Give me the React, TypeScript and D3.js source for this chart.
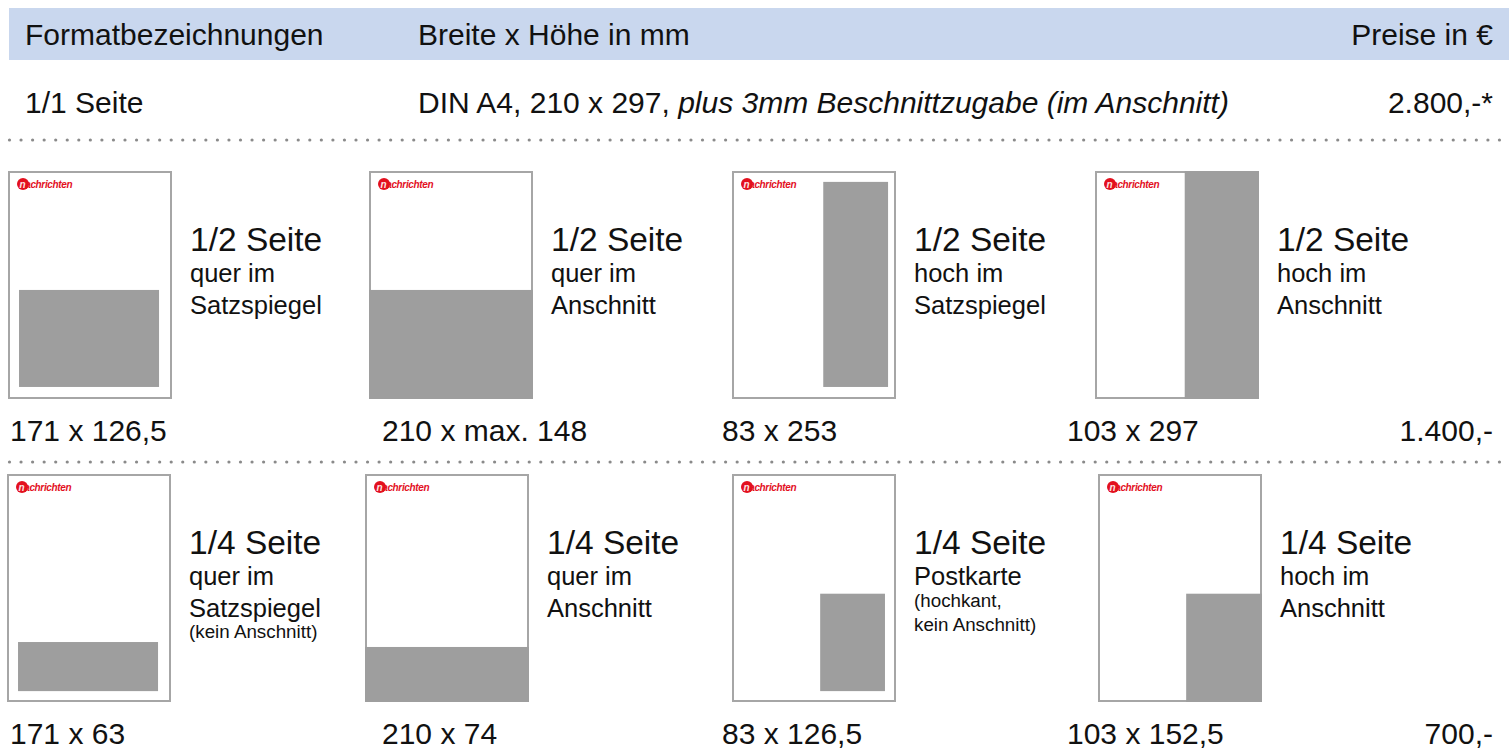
import * as d3 from "d3";

// header + full page row
const headers = ["Formatbezeichnungen", "Breite x Höhe in mm", "Preise in €"];
const fullName = "1/1 Seite";
const fullSize = "DIN A4, 210 x 297, ";
const fullNote = "plus 3mm Beschnittzugabe (im Anschnitt)";
const prices = ["2.800,-*", "1.400,-", "700,-"];

// page size in mm (DIN A4)
const pageMm = [210, 297];

// half page formats
const halfTitles = ["1/2 Seite", "1/2 Seite", "1/2 Seite", "1/2 Seite"];
const halfSubs = [["quer im", "Satzspiegel"], ["quer im", "Anschnitt"], ["hoch im", "Satzspiegel"], ["hoch im", "Anschnitt"]];
const halfNotes: string[][] = [[], [], [], []];
const halfSizes = ["171 x 126,5", "210 x max. 148", "83 x 253", "103 x 297"];
// ad box on the thumbnail, mm: [x0, y0, x1, y1]
const halfBoxes = [[13, 155, 194.5, 282.5], [0, 155, 210, 297], [117, 13, 201, 282.5], [115, 0, 210, 297]];

// quarter page formats
const quarterTitles = ["1/4 Seite", "1/4 Seite", "1/4 Seite", "1/4 Seite"];
const quarterSubs = [["quer im", "Satzspiegel"], ["quer im", "Anschnitt"], ["Postkarte"], ["hoch im", "Anschnitt"]];
const quarterNotes = [["(kein Anschnitt)"], [], ["(hochkant,", "kein Anschnitt)"], []];
const quarterSizes = ["171 x 63", "210 x 74", "83 x 126,5", "103 x 152,5"];
const quarterBoxes = [[13, 219.5, 194.5, 284], [0, 226, 210, 297], [113, 156, 197, 284], [113, 156, 210, 297]];

const W = 1509;
const H = 751;
const FONT = "'Liberation Sans', Arial, sans-serif";
const PAGE_W = 162;
const PAGE_H = 226;

const xMm = d3.scaleLinear().domain([0, pageMm[0]]).range([0, PAGE_W]);
const yMm = d3.scaleLinear().domain([0, pageMm[1]]).range([0, PAGE_H]);

// extend bleed boxes over the frame stroke
const bx = (v: number) => (v <= 0 ? xMm(v) - 1 : v >= pageMm[0] ? xMm(v) + 1 : xMm(v));
const by = (v: number) => (v <= 0 ? yMm(v) - 1 : v >= pageMm[1] ? yMm(v) + 1 : yMm(v));

const Thumb = ({ x, y, box }: { x: number; y: number; box: number[] }) => (
  <g transform={`translate(${x},${y})`}>
    <rect x={0} y={0} width={PAGE_W} height={PAGE_H} fill="#fff" stroke="#a6a6a6" strokeWidth={2} />
    <circle cx={14} cy={12} r={6} fill="#e3101e" />
    <text x={10.5} y={15.8} fontFamily={FONT} fontSize={10} fontWeight="bold" fontStyle="italic" fill="#e3101e" textLength={53}>
      <tspan fill="#fbe3e3">n</tspan>achrichten
    </text>
    <rect
      x={bx(box[0])}
      y={by(box[1])}
      width={bx(box[2]) - bx(box[0])}
      height={by(box[3]) - by(box[1])}
      fill="#9e9e9e"
    />
  </g>
);

const Label = ({ x, y, title, subs, notes }: { x: number; y: number; title: string; subs: string[]; notes: string[] }) => {
  const lastSub = y + subs.length * 31;
  return (
    <g fontFamily={FONT} fill="#111">
      <text x={x} y={y} fontSize={33.5}>{title}</text>
      {subs.map((s, i) => (
        <text key={"s" + i} x={x} y={y + 31 + i * 32} fontSize={25.5}>{s}</text>
      ))}
      {notes.map((s, i) => (
        <text key={"n" + i} x={x} y={lastSub + 22 + i * 24} fontSize={18.8}>{s}</text>
      ))}
    </g>
  );
};

const Dots = ({ y }: { y: number }) => (
  <g fill="#8a8a8a">
    {d3.range(9.5, W - 3, 11.55).map((cx, i) => (
      <circle key={i} cx={cx} cy={y} r={1.6} />
    ))}
  </g>
);

const Row = ({
  xs, top, titleY, sizeY, titles, subs, notes, sizes, boxes, price,
}: {
  xs: number[]; top: number; titleY: number; sizeY: number; titles: string[]; subs: string[][];
  notes: string[][]; sizes: string[]; boxes: number[][]; price: string;
}) => (
  <g>
    {xs.map((x, i) => (
      <g key={i}>
        <Thumb x={x} y={top} box={boxes[i]} />
        <Label x={x + 181} y={titleY} title={titles[i]} subs={subs[i]} notes={notes[i]} />
      </g>
    ))}
    <g fontFamily={FONT} fontSize={30} fill="#111">
      {sizes.map((s, i) => (
        <text key={i} x={[10, 382, 722, 1067][i]} y={sizeY}>{s}</text>
      ))}
      <text x={1493} y={sizeY} textAnchor="end">{price}</text>
    </g>
  </g>
);

export default function App() {
  return (
    <svg width={W} height={H} style={{ position: "absolute", left: 0, top: 0, display: "block" }}>
      <rect x={0} y={0} width={W} height={H} fill="#fff" />
      <rect x={9} y={8} width={W - 9} height={52} fill="#c9d7ee" />
      <g fontFamily={FONT} fontSize={30} fill="#111">
        <text x={25} y={45}>{headers[0]}</text>
        <text x={418} y={45}>{headers[1]}</text>
        <text x={1493} y={45} textAnchor="end">{headers[2]}</text>
        <text x={25} y={113}>{fullName}</text>
        <text x={418} y={113}>
          {fullSize}
          <tspan fontStyle="italic">{fullNote}</tspan>
        </text>
        <text x={1493} y={113} textAnchor="end">{prices[0]}</text>
      </g>
      <Dots y={140} />
      <Row
        xs={[9, 370, 733, 1096]}
        top={172}
        titleY={251}
        sizeY={441}
        titles={halfTitles}
        subs={halfSubs}
        notes={halfNotes}
        sizes={halfSizes}
        boxes={halfBoxes}
        price={prices[1]}
      />
      <Dots y={462} />
      <Row
        xs={[8, 366, 733, 1099]}
        top={475}
        titleY={554}
        sizeY={744}
        titles={quarterTitles}
        subs={quarterSubs}
        notes={quarterNotes}
        sizes={quarterSizes}
        boxes={quarterBoxes}
        price={prices[2]}
      />
    </svg>
  );
}
